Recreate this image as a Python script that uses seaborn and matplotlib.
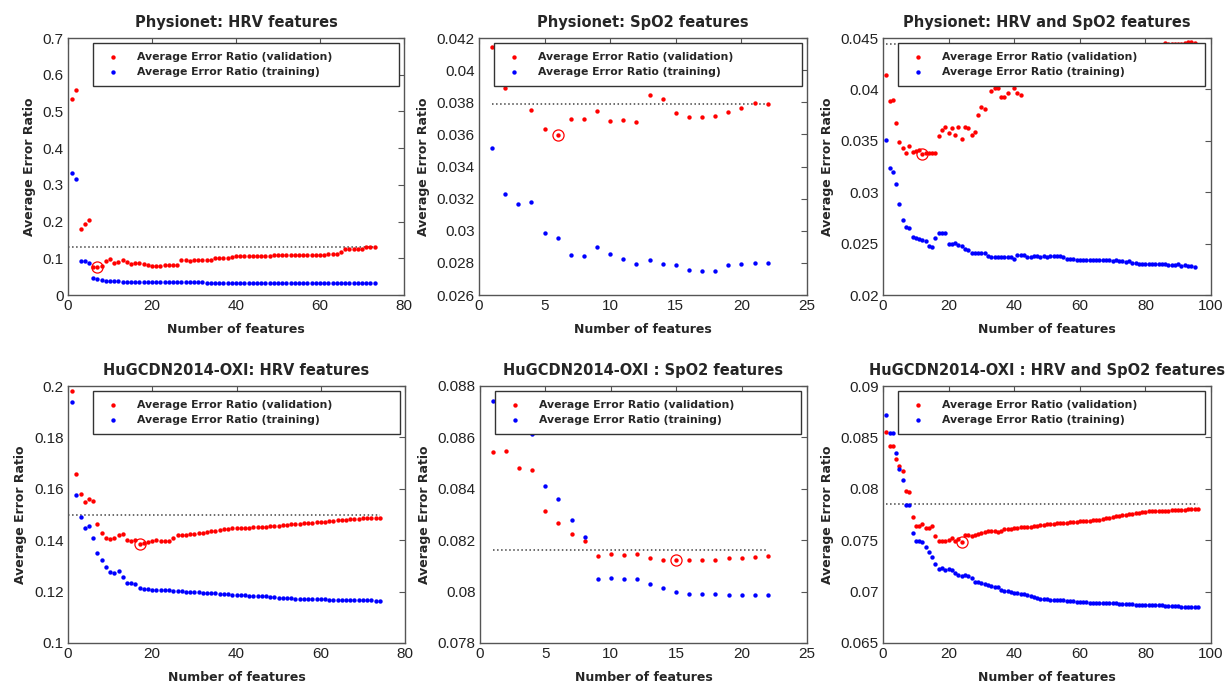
import numpy as np
import pandas as pd
import matplotlib
matplotlib.use("Agg")
import matplotlib.pyplot as plt
from matplotlib.ticker import FuncFormatter
import seaborn as sns

# values
titles = [
    "Physionet: HRV features",
    "Physionet: SpO2 features",
    "Physionet: HRV and SpO2 features",
    "HuGCDN2014-OXI: HRV features",
    "HuGCDN2014-OXI : SpO2 features",
    "HuGCDN2014-OXI : HRV and SpO2 features",
]

p1_val = [0.534, 0.558, 0.180, 0.194, 0.203, 0.077, 0.076, 0.080, 0.092, 0.097,
          0.088, 0.090, 0.095, 0.089, 0.084, 0.087, 0.087, 0.085, 0.082, 0.080,
          0.079, 0.080, 0.082, 0.083, 0.083, 0.083, 0.094, 0.096, 0.093, 0.094,
          0.094, 0.094, 0.094, 0.096, 0.102, 0.102, 0.102, 0.102, 0.104, 0.106,
          0.106, 0.106, 0.106, 0.106, 0.106, 0.106, 0.106, 0.106, 0.108, 0.108,
          0.108, 0.108, 0.110, 0.110, 0.110, 0.110, 0.110, 0.110, 0.110, 0.110,
          0.110, 0.111, 0.112, 0.112, 0.117, 0.125, 0.125, 0.125, 0.125, 0.125,
          0.131, 0.132, 0.132]
p1_train = [0.333, 0.317, 0.092, 0.092, 0.088, 0.045, 0.043, 0.041, 0.039, 0.039,
            0.038, 0.037, 0.035, 0.035, 0.035, 0.035, 0.035, 0.035, 0.035, 0.035,
            0.035, 0.035, 0.035, 0.035, 0.035, 0.035, 0.035, 0.035, 0.035, 0.035,
            0.035, 0.035, 0.033, 0.032, 0.032, 0.032, 0.032, 0.032, 0.032, 0.032,
            0.032, 0.032, 0.032, 0.032, 0.032, 0.032, 0.032, 0.032, 0.032, 0.032,
            0.032, 0.032, 0.032, 0.032, 0.032, 0.032, 0.032, 0.032, 0.032, 0.032,
            0.032, 0.032, 0.032, 0.032, 0.032, 0.032, 0.032, 0.032, 0.032, 0.032,
            0.032, 0.032, 0.032]

p2_val = [0.04146, 0.03890, 0.04000, 0.03754, 0.03636, 0.03595, 0.03694, 0.03698,
          0.03746, 0.03682, 0.03688, 0.03674, 0.03848, 0.03823, 0.03736, 0.03707,
          0.03707, 0.03717, 0.03740, 0.03765, 0.03796, 0.03788]
p2_train = [0.03518, 0.03230, 0.03166, 0.03180, 0.02983, 0.02954, 0.02849, 0.02845,
            0.02901, 0.02857, 0.02824, 0.02791, 0.02820, 0.02791, 0.02787, 0.02756,
            0.02751, 0.02751, 0.02785, 0.02791, 0.02797, 0.02801]

p3_val = [0.04144, 0.03888, 0.03894, 0.03678, 0.03490, 0.03431, 0.03383, 0.03451, 0.03388, 0.03399,
          0.03409, 0.03374, 0.03383, 0.03380, 0.03386, 0.03380, 0.03542, 0.03606, 0.03635, 0.03580,
          0.03626, 0.03555, 0.03632, 0.03519, 0.03632, 0.03626, 0.03558, 0.03584, 0.03755, 0.03833,
          0.03807, 0.04060, 0.03988, 0.04014, 0.04014, 0.03930, 0.03927, 0.03962, 0.04070, 0.04017,
          0.03966, 0.03950, 0.04050, 0.04060, 0.04050, 0.04070, 0.04080, 0.04070, 0.04090, 0.04100,
          0.04110, 0.04100, 0.04120, 0.04130, 0.04140, 0.04130, 0.04150, 0.04160, 0.04170, 0.04180,
          0.04190, 0.04200, 0.04210, 0.04210, 0.04230, 0.04240, 0.04250, 0.04260, 0.04270, 0.04280,
          0.04290, 0.04300, 0.04310, 0.04320, 0.04330, 0.04340, 0.04350, 0.04360, 0.04370, 0.04380,
          0.04390, 0.04400, 0.04410, 0.04420, 0.04430, 0.04450, 0.04443, 0.04443, 0.04445, 0.04443,
          0.04445, 0.04455, 0.04460, 0.04458, 0.04452]
p3_train = [0.03512, 0.03237, 0.03198, 0.03075, 0.02884, 0.02729, 0.02661, 0.02654, 0.02560, 0.02557,
            0.02547, 0.02538, 0.02528, 0.02476, 0.02470, 0.02551, 0.02606, 0.02600, 0.02600, 0.02499,
            0.02492, 0.02509, 0.02483, 0.02473, 0.02447, 0.02434, 0.02405, 0.02410, 0.02410, 0.02410,
            0.02410, 0.02378, 0.02372, 0.02372, 0.02372, 0.02372, 0.02368, 0.02372, 0.02365, 0.02353,
            0.02386, 0.02389, 0.02386, 0.02368, 0.02372, 0.02375, 0.02378, 0.02368, 0.02378, 0.02372,
            0.02378, 0.02381, 0.02381, 0.02378, 0.02365, 0.02352, 0.02346, 0.02346, 0.02342, 0.02342,
            0.02339, 0.02339, 0.02339, 0.02339, 0.02339, 0.02339, 0.02339, 0.02336, 0.02339, 0.02330,
            0.02336, 0.02330, 0.02326, 0.02323, 0.02330, 0.02313, 0.02310, 0.02304, 0.02300, 0.02297,
            0.02297, 0.02300, 0.02297, 0.02300, 0.02304, 0.02297, 0.02291, 0.02294, 0.02291, 0.02297,
            0.02284, 0.02288, 0.02284, 0.02278, 0.02275]

p4_val = [0.1979, 0.1656, 0.1578, 0.1547, 0.1560, 0.1554, 0.1463, 0.1428, 0.1410, 0.1405,
          0.1409, 0.1419, 0.1425, 0.1399, 0.1398, 0.1401, 0.1384, 0.1390, 0.1394, 0.1398,
          0.1399, 0.1398, 0.1395, 0.1397, 0.1409, 0.1420, 0.1422, 0.1422, 0.1425, 0.1426,
          0.1428, 0.1428, 0.1431, 0.1434, 0.1437, 0.1441, 0.1443, 0.1445, 0.1447, 0.1446,
          0.1447, 0.1448, 0.1449, 0.1450, 0.1451, 0.1452, 0.1453, 0.1454, 0.1456, 0.1457,
          0.1459, 0.1460, 0.1462, 0.1463, 0.1464, 0.1465, 0.1466, 0.1467, 0.1469, 0.1470,
          0.1471, 0.1473, 0.1475, 0.1477, 0.1478, 0.1480, 0.1481, 0.1482, 0.1484, 0.1485,
          0.1486, 0.1487, 0.1488, 0.1488]
p4_train = [0.1938, 0.1575, 0.1490, 0.1449, 0.1454, 0.1410, 0.1350, 0.1322, 0.1296, 0.1276,
            0.1274, 0.1279, 0.1256, 0.1235, 0.1232, 0.1228, 0.1214, 0.1211, 0.1210, 0.1208,
            0.1208, 0.1206, 0.1206, 0.1205, 0.1203, 0.1202, 0.1201, 0.1199, 0.1198, 0.1198,
            0.1197, 0.1195, 0.1194, 0.1194, 0.1193, 0.1191, 0.1192, 0.1189, 0.1187, 0.1186,
            0.1185, 0.1185, 0.1184, 0.1182, 0.1182, 0.1182, 0.1181, 0.1179, 0.1178, 0.1177,
            0.1175, 0.1174, 0.1174, 0.1173, 0.1173, 0.1173, 0.1173, 0.1172, 0.1172, 0.1171,
            0.1170, 0.1169, 0.1169, 0.1168, 0.1168, 0.1167, 0.1167, 0.1167, 0.1166, 0.1166,
            0.1166, 0.1166, 0.1165, 0.1165]

p5_val = [0.08542, 0.08546, 0.08481, 0.08474, 0.08315, 0.08268, 0.08224, 0.08198,
          0.08139, 0.08145, 0.08141, 0.08145, 0.08131, 0.08124, 0.08122, 0.08124,
          0.08124, 0.08124, 0.08131, 0.08131, 0.08136, 0.08139]
p5_train = [0.08740, 0.08660, 0.08640, 0.08612, 0.08411, 0.08359, 0.08280, 0.08212,
            0.08050, 0.08053, 0.08050, 0.08050, 0.08030, 0.08015, 0.07997, 0.07992,
            0.07989, 0.07989, 0.07987, 0.07987, 0.07987, 0.07987]

p6_val = [0.08549, 0.08420, 0.08420, 0.08290, 0.08219, 0.08170, 0.07979, 0.07969, 0.07726, 0.07635,
          0.07635, 0.07654, 0.07619, 0.07619, 0.07638, 0.07538, 0.07495, 0.07495, 0.07489, 0.07505,
          0.07521, 0.07489, 0.07508, 0.07482, 0.07547, 0.07554, 0.07541, 0.07547, 0.07560, 0.07570,
          0.07580, 0.07585, 0.07592, 0.07590, 0.07580, 0.07592, 0.07605, 0.07610, 0.07612, 0.07615,
          0.07620, 0.07625, 0.07628, 0.07630, 0.07632, 0.07638, 0.07640, 0.07645, 0.07650, 0.07655,
          0.07660, 0.07660, 0.07665, 0.07668, 0.07670, 0.07672, 0.07675, 0.07678, 0.07680, 0.07682,
          0.07685, 0.07688, 0.07690, 0.07692, 0.07695, 0.07700, 0.07705, 0.07712, 0.07720, 0.07728,
          0.07735, 0.07740, 0.07745, 0.07748, 0.07752, 0.07758, 0.07762, 0.07768, 0.07772, 0.07778,
          0.07780, 0.07782, 0.07782, 0.07784, 0.07785, 0.07786, 0.07788, 0.07790, 0.07792, 0.07795,
          0.07797, 0.07798, 0.07800, 0.07802, 0.07805, 0.07808]
p6_train = [0.08715, 0.08543, 0.08543, 0.08348, 0.08196, 0.08082, 0.07846, 0.07846, 0.07573, 0.07489,
            0.07489, 0.07479, 0.07431, 0.07382, 0.07337, 0.07265, 0.07220, 0.07233, 0.07213, 0.07217,
            0.07207, 0.07184, 0.07165, 0.07152, 0.07162, 0.07155, 0.07132, 0.07095, 0.07090, 0.07088,
            0.07070, 0.07060, 0.07050, 0.07048, 0.07045, 0.07020, 0.07010, 0.07005, 0.06995, 0.06990,
            0.06985, 0.06980, 0.06975, 0.06965, 0.06955, 0.06945, 0.06935, 0.06932, 0.06930, 0.06925,
            0.06922, 0.06920, 0.06920, 0.06918, 0.06915, 0.06912, 0.06908, 0.06905, 0.06902, 0.06900,
            0.06898, 0.06895, 0.06892, 0.06890, 0.06888, 0.06888, 0.06887, 0.06887, 0.06887, 0.06886,
            0.06885, 0.06884, 0.06882, 0.06880, 0.06878, 0.06876, 0.06874, 0.06872, 0.06870, 0.06868,
            0.06867, 0.06866, 0.06866, 0.06865, 0.06865, 0.06864, 0.06862, 0.06860, 0.06858, 0.06856,
            0.06855, 0.06854, 0.06853, 0.06852, 0.06850, 0.06848]

# dotted reference level (validation error with all features)
ref_levels = [0.132, 0.0379, 0.04445, 0.1499, 0.08163, 0.07852]

xticks_all = [[0, 20, 40, 60, 80], [0, 5, 10, 15, 20, 25], [0, 20, 40, 60, 80, 100],
              [0, 20, 40, 60, 80], [0, 5, 10, 15, 20, 25], [0, 20, 40, 60, 80, 100]]
yticks_all = [[0, 0.1, 0.2, 0.3, 0.4, 0.5, 0.6, 0.7],
              [0.026, 0.028, 0.030, 0.032, 0.034, 0.036, 0.038, 0.040, 0.042],
              [0.020, 0.025, 0.030, 0.035, 0.040, 0.045],
              [0.10, 0.12, 0.14, 0.16, 0.18, 0.20],
              [0.078, 0.080, 0.082, 0.084, 0.086, 0.088],
              [0.065, 0.070, 0.075, 0.080, 0.085, 0.090]]

val_series = [p1_val, p2_val, p3_val, p4_val, p5_val, p6_val]
train_series = [p1_train, p2_train, p3_train, p4_train, p5_train, p6_train]

sns.set_theme(style="white")
plt.rcParams['font.family'] = ['DejaVu Sans']

W, H = 1226, 684
fig = plt.figure(figsize=(W / 100, H / 100), dpi=100)

# axes boxes in pixels: left, top, width, height
boxes = [(68, 38, 336, 257), (479, 38, 328, 257), (883, 38, 328, 257),
         (68, 386, 337, 257), (480, 386, 327, 257), (883, 386, 328, 257)]
legend_x = [(0.074, 0.911), (0.047, 0.939), (0.046, 0.936),
            (0.074, 0.911), (0.046, 0.937), (0.046, 0.936)]

edge = '#555555'
fmt = FuncFormatter(lambda v, p: f"{round(v, 6):g}")

for i in range(6):
    l, t, w, h = boxes[i]
    ax = fig.add_axes([l / W, 1 - (t + h) / H, w / W, h / H])
    val = val_series[i]
    train = train_series[i]
    n = np.arange(1, len(val) + 1)
    df = pd.DataFrame({'n': n, 'val': val, 'train': train})

    sns.scatterplot(data=df, x='n', y='val', ax=ax, color='#ff0000', s=10,
                    linewidth=0, label='Average Error Ratio (validation)', zorder=3)
    sns.scatterplot(data=df, x='n', y='train', ax=ax, color='#0000ff', s=10,
                    linewidth=0, label='Average Error Ratio (training)', zorder=3)
    x0 = xticks_all[i][0] if i in (0, 3) else n[0]
    ax.plot([x0, n[-1]], [ref_levels[i], ref_levels[i]], ls=':', color='#444444',
            lw=1.1, zorder=2)
    # circle the best (lowest validation error) subset size
    best = int(np.argmin(val))
    ax.plot(n[best], val[best], 'o', mfc='none', mec='#ff0000', ms=8, mew=0.9, zorder=4)

    xt = xticks_all[i]
    yt = yticks_all[i]
    ax.set_xlim(xt[0], xt[-1])
    ax.set_ylim(yt[0], yt[-1])
    ax.set_xticks(xt)
    ax.set_yticks(yt)
    ax.xaxis.set_major_formatter(fmt)
    ax.yaxis.set_major_formatter(fmt)
    ax.tick_params(direction='in', length=4, width=0.8, color=edge, top=True, right=True,
                   labelsize=11, labelcolor='#222222', pad=3)
    for lab in ax.get_xticklabels() + ax.get_yticklabels():
        lab.set_family('Liberation Sans')
    for sp in ax.spines.values():
        sp.set_color(edge)
        sp.set_linewidth(1.0)

    ax.set_title(titles[i], fontsize=10.5, fontweight='bold', pad=8)
    ax.set_xlabel('Number of features', fontsize=9, fontweight='bold', labelpad=7)
    ax.set_ylabel('Average Error Ratio', fontsize=9, fontweight='bold', labelpad=5)

    lx, lw_ = legend_x[i]
    leg = ax.legend(loc='upper left', bbox_to_anchor=(lx, 0.0, lw_, 0.982), mode='expand',
                    fancybox=False, framealpha=1, edgecolor='#333333', borderaxespad=0,
                    prop={'size': 7.8, 'weight': 'bold'}, handlelength=2.0,
                    handletextpad=1.2, labelspacing=0.45, borderpad=0.85, markerscale=1.0)
    leg.get_frame().set_linewidth(1.0)
    leg.set_zorder(6)

fig.savefig('out.png', dpi=100)
